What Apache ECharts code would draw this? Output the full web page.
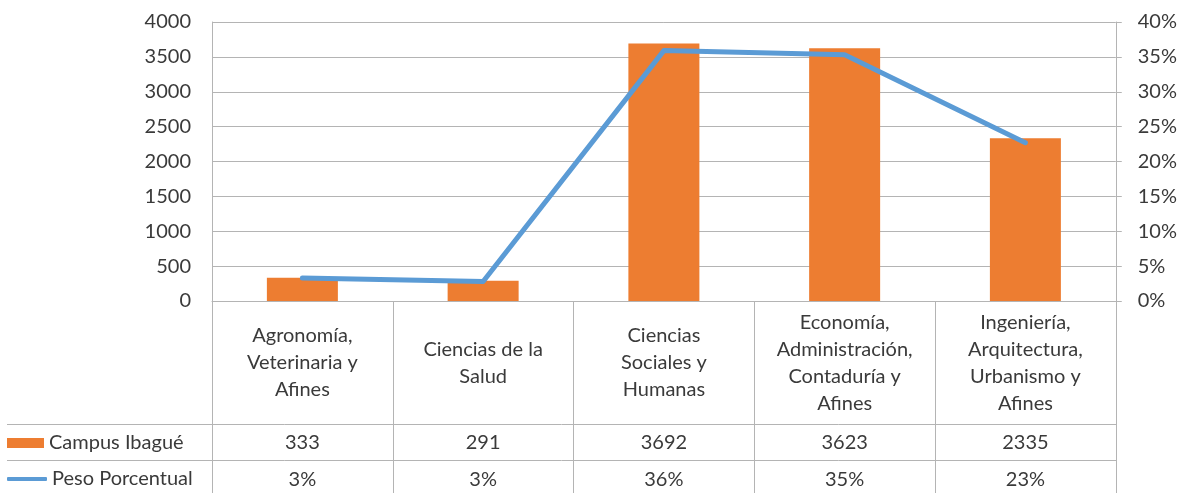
<!DOCTYPE html>
<html>
<head>
<meta charset="utf-8">
<script src="https://cdn.jsdelivr.net/npm/echarts@6/dist/echarts.min.js"></script>
<style>
  html, body { margin: 0; padding: 0; background: #fff; }
  #chart { width: 1180px; height: 493px; }
</style>
</head>
<body>
<div id="chart"></div>
<script>
const categories = [
  'Agronomía,\nVeterinaria y\nAfines',
  'Ciencias de la\nSalud',
  'Ciencias\nSociales y\nHumanas',
  'Economía,\nAdministración,\nContaduría y\nAfines',
  'Ingeniería,\nArquitectura,\nUrbanismo y\nAfines'
]
const campusIbague = [333, 291, 3692, 3623, 2335]
const pesoPorcentual = [3.3, 2.8, 35.9, 35.3, 22.7]
const leftTicks = { min: 0, max: 4000, interval: 500 }
const rightTicks = { min: 0, max: 40, interval: 5 }

const font = 'Lato'
const textColor = '#3a3a3a'
const borderColor = '#b4b4b4'

const chart = echarts.init(document.getElementById('chart'))

chart.setOption({
  animation: false,
  textStyle: { fontFamily: font },
  grid: { left: 212, right: 64, top: 22, bottom: 192 },
  legend: [{
    data: [{ name: 'Campus Ibagué', icon: 'rect' }],
    left: 7, top: 433, padding: 0,
    itemWidth: 37, itemHeight: 10,
    textStyle: { fontFamily: font, fontSize: 20, color: textColor }
  }, {
    data: [{ name: 'Peso Porcentual', icon: 'roundRect' }],
    left: 7, top: 469, padding: 0,
    itemWidth: 40, itemHeight: 4,
    textStyle: { fontFamily: font, fontSize: 20, color: textColor }
  }],
  xAxis: [{
    type: 'category',
    data: categories,
    position: 'bottom',
    axisLine: { show: true, lineStyle: { color: borderColor, width: 1 } },
    axisTick: { show: true, length: 195, interval: 0, lineStyle: { color: borderColor } },
    axisLabel: {
      interval: 0, margin: 62, verticalAlign: 'middle',
      fontFamily: font, fontSize: 20, lineHeight: 27, color: textColor
    }
  }, {
    type: 'category',
    data: categories,
    position: 'bottom',
    axisLine: { show: false },
    axisTick: { show: false },
    axisLabel: {
      interval: 0, margin: 142, verticalAlign: 'middle',
      fontFamily: font, fontSize: 20, color: textColor,
      formatter: (v, i) => String(campusIbague[i])
    }
  }, {
    type: 'category',
    data: categories,
    position: 'bottom',
    axisLine: { show: false },
    axisTick: { show: false },
    axisLabel: {
      interval: 0, margin: 179, verticalAlign: 'middle',
      fontFamily: font, fontSize: 20, color: textColor,
      formatter: (v, i) => Math.round(pesoPorcentual[i]) + '%'
    }
  }],
  yAxis: [{
    type: 'value',
    min: leftTicks.min, max: leftTicks.max, interval: leftTicks.interval,
    axisLine: { show: true, lineStyle: { color: borderColor } },
    axisTick: { show: false },
    splitLine: { show: true, lineStyle: { color: borderColor } },
    axisLabel: { margin: 21, fontFamily: font, fontSize: 20, color: textColor, formatter: v => String(v) }
  }, {
    type: 'value',
    position: 'right',
    min: rightTicks.min, max: rightTicks.max, interval: rightTicks.interval,
    axisLine: { show: true, lineStyle: { color: borderColor } },
    axisTick: { show: true, length: 6, lineStyle: { color: borderColor } },
    splitLine: { show: false },
    axisLabel: { margin: 22, fontFamily: font, fontSize: 20, color: textColor, formatter: '{value}%' }
  }],
  graphic: [
    { type: 'line', shape: { x1: 7, y1: 424.5, x2: 1116, y2: 424.5 }, style: { stroke: borderColor, lineWidth: 1 } },
    { type: 'line', shape: { x1: 7, y1: 460.5, x2: 1116, y2: 460.5 }, style: { stroke: borderColor, lineWidth: 1 } }
  ],
  series: [{
    name: 'Campus Ibagué',
    type: 'bar',
    data: campusIbague,
    barWidth: 71,
    itemStyle: { color: '#ED7D31' }
  }, {
    name: 'Peso Porcentual',
    type: 'line',
    yAxisIndex: 1,
    data: pesoPorcentual,
    symbol: 'none',
    itemStyle: { color: '#5B9BD5' },
    lineStyle: { color: '#5B9BD5', width: 5, cap: 'round', join: 'round' }
  }]
})
</script>
</body>
</html>
